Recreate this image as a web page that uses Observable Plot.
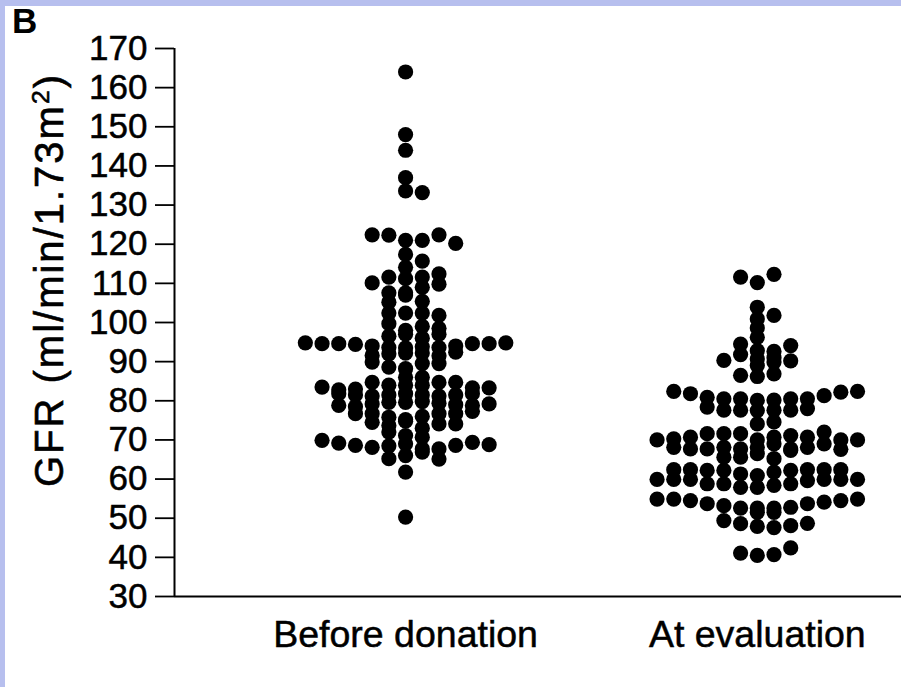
<!DOCTYPE html>
<html><head><meta charset="utf-8">
<script src="https://cdn.jsdelivr.net/npm/d3@7"></script>
<script src="https://cdn.jsdelivr.net/npm/@observablehq/plot@0.6"></script>
<style>
body{margin:0;background:#fff;}
#wrap{position:relative;width:901px;height:687px;overflow:hidden;background:#fff;font-family:"Liberation Sans",Arial,sans-serif;color:#000;}
#chart{position:absolute;left:0;top:0;}
#chart svg text{stroke:#000;stroke-width:0.5px;}
#topbar{position:absolute;left:0;top:0;width:901px;height:6px;background:#b7bfee;}
#leftbar{position:absolute;left:0;top:0;width:5px;height:687px;background:#b7bfee;}
#panel{position:absolute;left:12px;top:3px;font-weight:bold;font-size:35px;line-height:1;}
#ytitle{position:absolute;left:49px;top:280px;transform:translate(-50%,-50%) rotate(-90deg);white-space:nowrap;font-size:40px;letter-spacing:2px;line-height:1;-webkit-text-stroke:0.6px #000;}
#ytitle sup{font-size:0.62em;vertical-align:0.55em;line-height:0;}
</style></head><body>
<div id="wrap">
<div id="chart"></div>
<div id="topbar"></div>
<div id="leftbar"></div>
<div id="panel">B</div>
<div id="ytitle">GFR (ml/min/1.73m<sup>2</sup>)</div>
</div>
<script>
// Category labels
const groups = ["Before donation", "At evaluation"];
// Y tick values
const yTicks = [30, 40, 50, 60, 70, 80, 90, 100, 110, 120, 130, 140, 150, 160, 170];
// GFR values (top to bottom, left to right within a row)
const beforeGFR = [
  164, 148, 144, 137, 133.6, 133.2,
  122.4, 122.3, 121, 121, 122.4, 120.2,
  117.4, 115.7, 114.1,
  110.1, 111.6, 111.2, 111.6, 112.4,
  107.6, 107.6, 109, 109.8,
  105.2, 107.0, 105.4,
  102.4, 102.4, 102.4, 101.8,
  99.7, 98, 99, 98.5,
  96.5, 97, 96, 97,
  94.8, 94.6, 94.6, 94.4, 94, 93.6, 93.5, 93.8, 93.6, 94, 94.6, 94.6, 94.8,
  91.6, 92, 92.2, 92.2, 91.5, 92.4,
  89.9, 88.6, 88.2, 89.5, 89.5,
  86, 86,
  83.5, 82.8, 83, 84.7, 84, 84, 84, 84.7, 84.7, 83.3, 83.3,
  81.8, 81.5, 81.2, 81.5, 81.8, 81.5, 81.2, 81.5, 81.8,
  78.8, 78.5, 79.2, 79.6, 79.6, 79.8, 79.4, 79, 78.8, 79.2,
  76.7, 76.7, 75.8, 75.2, 76, 76.7, 76.7, 77.3,
  74.5, 73.7, 74.8, 73, 74.1, 74.1,
  72, 71.1, 70.7,
  69.9, 69.2, 68.6, 68.1, 68.5, 69, 67.7, 67.7, 68.6, 69.4, 68.8,
  65.2, 66, 66.9, 65.1,
  61.8,
  50.3
];
const afterGFR = [
  111.6, 110.2, 112.3,
  103.9,
  100.9, 101.8,
  98.6, 96.2,
  94.5, 92.8, 92.6, 94.1,
  90.3, 91.8, 90.7, 91, 90.2,
  89, 89.9,
  86.5, 86.2, 86.9,
  82.4, 81.8, 80.9, 80.5, 80.5, 80.1, 80.2, 80.5, 80.5, 81.3, 82.2, 82.4,
  78.4, 77.6, 77.6, 77.5, 77.6, 77.6, 78,
  74.1, 74.6,
  70.0, 70.3, 70.7, 71.6, 71.6, 71.6, 70.0, 70.7, 71.1, 70.7, 72.0, 70.0, 70.0,
  68.1, 67.7, 67.7, 68.1, 67.7, 68.1, 69.0, 67.7, 68.1, 69.0, 67.6,
  65.6, 65.6, 66.5, 65.2, 67.3,
  62.4, 62.4, 62.2, 62.2, 61.3, 60.9, 61.8, 62.2, 62.4, 62.4, 62.4,
  59.9, 59.9, 59.9, 58.8, 58.8, 57.9, 57.9, 58.4, 58.8, 59.6, 59.9, 59.9, 59.9,
  54.9, 54.9, 54.5, 53.7, 53.2, 52.6, 52.6, 52.6, 52.8, 53.7, 54.1, 54.5, 54.9,
  51.5, 51.5,
  49.4, 48.6, 47.9, 47.6, 48.1, 48.7,
  41.1, 40.5, 40.7, 42.4
];

// Column-scatter layout: values binned into rows, each row spread over slots
const BIN = 2.5, SLOT = 0.0475;
function layout(values, gi) {
  const rows = d3.group(values.map((v, i) => ({v, i})), d => Math.floor((d.v - 30) / BIN));
  const out = [];
  for (const [, pts] of rows) {
    const start = -Math.floor((pts.length - 1) / 2);
    pts.forEach((p, j) => out.push({group: groups[gi], gi, value: p.v, slot: start + j}));
  }
  return out;
}
const points = [...layout(beforeGFR, 0), ...layout(afterGFR, 1)];

const xMin = -0.657, xMax = 1.41;
const chart = Plot.plot({
  width: 901, height: 687,
  marginLeft: 174, marginRight: 0, marginTop: 48, marginBottom: 91,
  style: {fontFamily: "'Liberation Sans', Arial, sans-serif", fontSize: "35px", background: "transparent", color: "#000"},
  x: {domain: [xMin, xMax]},
  y: {domain: [30, 170]},
  marks: [
    Plot.axisY({ticks: yTicks, tickSize: 19, tickPadding: 8, label: null, strokeWidth: 1.8}),
    Plot.axisX({ticks: [0, 1], tickFormat: i => groups[i], tickSize: 0, tickPadding: 24, label: null, fontSize: 37.5}),
    Plot.ruleX([xMin], {y1: 30, y2: 170, strokeWidth: 2}),
    Plot.ruleY([30], {strokeWidth: 2}),
    Plot.dot(points, {x: d => d.gi + d.slot * SLOT, y: "value", r: 7.6, fill: "#000", stroke: "none"})
  ]
});
document.getElementById("chart").appendChild(chart);
</script>
</body></html>
